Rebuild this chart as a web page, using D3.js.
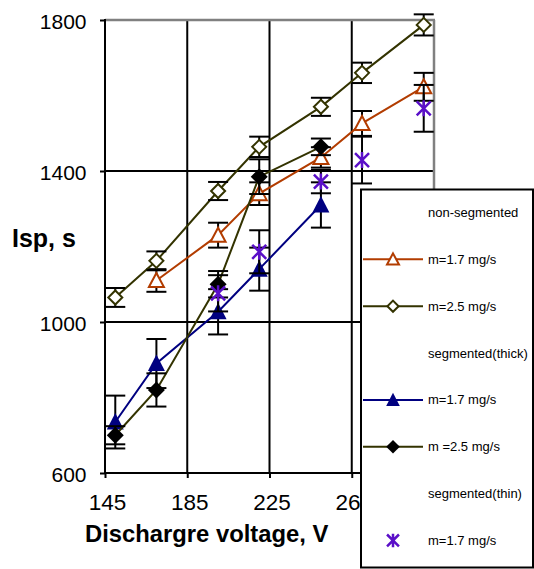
<!DOCTYPE html>
<html>
<head>
<meta charset="utf-8">
<script src="https://cdn.jsdelivr.net/npm/d3@7"></script>
<style>
  html, body { margin: 0; padding: 0; background: #fff; }
  svg { display: block; font-family: "Liberation Sans", Arial, sans-serif; }
</style>
</head>
<body>
<svg id="chart" width="534" height="569"></svg>
<script>
// Specific impulse vs discharge voltage, with error bars
const xTicks = [145, 185, 225, 265, 305];
const yTicks = [600, 1000, 1400, 1800];

// non-segmented, m = 1.7 mg/s
const nonSeg17V   = [170, 200, 220, 250, 270, 300];
const nonSeg17    = [1110, 1230, 1340, 1436, 1526, 1623];
const nonSeg17Err = [30, 33, 30, 27, 33, 37];

// non-segmented, m = 2.5 mg/s
const nonSeg25V   = [150, 170, 200, 220, 250, 270, 300];
const nonSeg25    = [1065, 1162, 1347, 1464, 1570, 1660, 1787];
const nonSeg25Err = [25, 25, 24, 27, 24, 27, 28];

// segmented (thick), m = 1.7 mg/s
const segThick17V   = [150, 170, 200, 220, 250];
const segThick17    = [735, 890, 1027, 1140, 1310];
const segThick17Err = [70, 65, 60, 57, 60];

// segmented (thick), m = 2.5 mg/s
const segThick25V   = [150, 170, 200, 220, 250];
const segThick25    = [700, 820, 1100, 1385, 1464];
const segThick25Err = [24, 44, 35, 46, 22];

// segmented (thin), m = 1.7 mg/s
const segThin17V   = [200, 220, 250, 270, 300];
const segThin17    = [1076, 1186, 1372, 1429, 1566];
const segThin17Err = [48, 57, 31, 62, 62];

const legendLabels = ["non-segmented", "m=1.7 mg/s", "m=2.5 mg/s", "segmented(thick)",
                      "m=1.7 mg/s", "m =2.5 mg/s", "segmented(thin)", "m=1.7 mg/s"];

const svg = d3.select("#chart");
const L = 105, R = 434, T = 20, B = 473;
const x = d3.scaleLinear().domain([145, 305]).range([L, R]);
const y = d3.scaleLinear().domain([600, 1800]).range([B, T]);

const zip = (xs, ys, es) => xs.map((v, i) => ({ x: v, y: ys[i], e: es[i] }));

// marker shapes
const diamondPath = r => `M0,${-r}L${r},0L0,${r}L${-r},0Z`;
const trianglePath = (h, w, b) => `M0,${-h}L${w},${b}L${-w},${b}Z`;
const starPath = r => `M${-r},${-r}L${r},${r}M${-r},${r}L${r},${-r}M0,${-r - 1}L0,${r + 1}`;

const series = [
  { data: zip(nonSeg17V, nonSeg17, nonSeg17Err), line: "#B23C00",
    marker: { d: trianglePath(7.5, 7.5, 6.5), fill: "#fff", stroke: "#B23C00", sw: 2 } },
  { data: zip(nonSeg25V, nonSeg25, nonSeg25Err), line: "#333300",
    marker: { d: diamondPath(7), fill: "#fff", stroke: "#333300", sw: 2 } },
  { data: zip(segThick17V, segThick17, segThick17Err), line: "#000080",
    marker: { d: trianglePath(9, 8.5, 7.5), fill: "#000080", stroke: "none", sw: 0 } },
  { data: zip(segThick25V, segThick25, segThick25Err), line: "#333300",
    marker: { d: diamondPath(8.5), fill: "#000", stroke: "none", sw: 0 } },
  { data: zip(segThin17V, segThin17, segThin17Err), line: null,
    marker: { d: starPath(7), fill: "none", stroke: "#5A0FC8", sw: 2.5 } }
];

// axes with outside ticks; the 305 label sits under the legend box
const yAxis = svg.append("g").attr("transform", `translate(${L},0)`)
  .call(d3.axisLeft(y).tickValues(yTicks).tickSize(5).tickPadding(13.5).tickFormat(d3.format("d")));
const xAxis = svg.append("g").attr("transform", `translate(0,${B})`)
  .call(d3.axisBottom(x).tickValues(xTicks).tickSize(5).tickPadding(16.5)
    .tickFormat(d => d === 305 ? "" : d3.format("d")(d)));
[yAxis, xAxis].forEach(g => {
  g.select(".domain").remove();
  g.selectAll("line").attr("stroke", "#000").attr("stroke-width", 2);
  g.selectAll("text").attr("fill", "#000")
    .attr("font-family", "Liberation Sans, Arial, sans-serif");
});
yAxis.selectAll("text").attr("font-size", 21).attr("dy", "0.4em");
xAxis.selectAll("text").attr("font-size", 22.5).attr("dx", 2);

// gridlines
const grid = svg.append("g");
grid.selectAll(".hg").data([1000, 1400]).join("line")
  .attr("x1", L).attr("x2", R).attr("y1", d => y(d)).attr("y2", d => y(d))
  .attr("stroke", "#000").attr("stroke-width", 2);
grid.selectAll(".vg").data([185, 225, 265]).join("line")
  .attr("x1", d => x(d)).attr("x2", d => x(d)).attr("y1", T).attr("y2", B)
  .attr("stroke", "#000").attr("stroke-width", 2);
// plot-area border (grey top / right)
grid.append("line").attr("x1", L).attr("x2", R + 1).attr("y1", T).attr("y2", T)
  .attr("stroke", "#808080").attr("stroke-width", 2.5);
grid.append("line").attr("x1", R).attr("x2", R).attr("y1", T).attr("y2", B)
  .attr("stroke", "#808080").attr("stroke-width", 2.5);
// axis lines
grid.append("line").attr("x1", L).attr("x2", L).attr("y1", T - 1).attr("y2", B + 1)
  .attr("stroke", "#000").attr("stroke-width", 2);
grid.append("line").attr("x1", L - 1).attr("x2", R).attr("y1", B).attr("y2", B)
  .attr("stroke", "#000").attr("stroke-width", 2);

// series: line, error bars, markers
const lineGen = d3.line().x(d => x(d.x)).y(d => y(d.y));
series.forEach(s => {
  const g = svg.append("g");
  if (s.line) {
    g.append("path").datum(s.data).attr("d", lineGen)
      .attr("fill", "none").attr("stroke", s.line).attr("stroke-width", 2);
  }
  const eb = g.selectAll(".eb").data(s.data).join("g")
    .attr("transform", d => `translate(${x(d.x)},0)`);
  eb.append("line").attr("x1", 0).attr("x2", 0)
    .attr("y1", d => y(d.y + d.e)).attr("y2", d => y(d.y - d.e))
    .attr("stroke", "#000").attr("stroke-width", 2);
  eb.append("line").attr("x1", -10).attr("x2", 10)
    .attr("y1", d => y(d.y + d.e)).attr("y2", d => y(d.y + d.e))
    .attr("stroke", "#000").attr("stroke-width", 2);
  eb.append("line").attr("x1", -10).attr("x2", 10)
    .attr("y1", d => y(d.y - d.e)).attr("y2", d => y(d.y - d.e))
    .attr("stroke", "#000").attr("stroke-width", 2);
  g.selectAll(".mk").data(s.data).join("path")
    .attr("transform", d => `translate(${x(d.x)},${y(d.y)})`)
    .attr("d", s.marker.d).attr("fill", s.marker.fill)
    .attr("stroke", s.marker.stroke).attr("stroke-width", s.marker.sw);
});

// axis titles
svg.append("text").attr("x", 12).attr("y", 247).attr("font-size", 25).attr("font-weight", "bold")
  .text("Isp, s");
svg.append("text").attr("x", 85).attr("y", 542).attr("font-size", 23.8).attr("font-weight", "bold")
  .text("Dischargre voltage, V");

// legend
const lg = svg.append("g");
lg.append("rect").attr("x", 361).attr("y", 189.5).attr("width", 172).attr("height", 378)
  .attr("fill", "#fff").attr("stroke", "#000").attr("stroke-width", 2);
const rowY = i => 212.5 + i * 46.85;
legendLabels.forEach((t, i) => {
  lg.append("text").attr("x", 428).attr("y", rowY(i)).attr("dy", "0.35em")
    .attr("font-size", 13).attr("fill", "#000").text(t);
});
const legendRows = [{ row: 1, s: series[0] }, { row: 2, s: series[1] },
                    { row: 4, s: series[2] }, { row: 5, s: series[3] }, { row: 7, s: series[4] }];
legendRows.forEach(({ row, s }) => {
  const cy = rowY(row);
  if (s.line) {
    lg.append("line").attr("x1", 363).attr("x2", 423).attr("y1", cy).attr("y2", cy)
      .attr("stroke", s.line).attr("stroke-width", 2);
  }
  const scale = s.line ? 0.8 : 0.85;
  lg.append("path").attr("transform", `translate(393,${cy}) scale(${scale})`)
    .attr("d", s.marker.d).attr("fill", s.marker.fill)
    .attr("stroke", s.marker.stroke).attr("stroke-width", s.marker.sw / scale);
});
</script>
</body>
</html>
